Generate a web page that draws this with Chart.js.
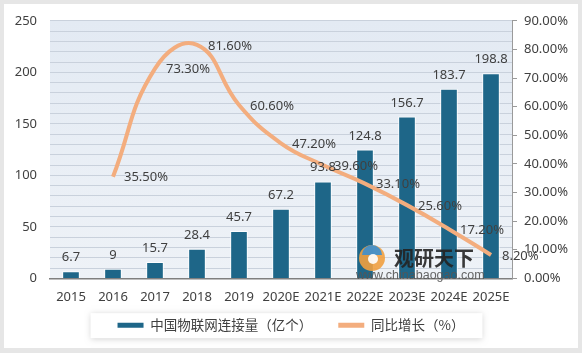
<!DOCTYPE html>
<html>
<head>
<meta charset="utf-8">
<script src="https://cdn.jsdelivr.net/npm/chart.js@4.4.1/dist/chart.umd.min.js"></script>
<style>
  html, body { margin: 0; padding: 0; background: #e6e6e6; }
  canvas { display: block; }
</style>
</head>
<body>
<canvas id="myChart" width="582" height="353"></canvas>
<script>
var years = ["2015", "2016", "2017", "2018", "2019", "2020E", "2021E", "2022E", "2023E", "2024E", "2025E"];
var connections = [6.7, 9, 15.7, 28.4, 45.7, 67.2, 93.8, 124.8, 156.7, 183.7, 198.8];
var growth = [null, 35.5, 73.3, 81.6, 60.6, 47.2, 39.6, 33.1, 25.6, 17.2, 8.2];
var leftTicks = [0, 50, 100, 150, 200, 250];

var barColor = '#1e6688';
var lineColor = '#f3ad7e';
var textColor = '#404040';
var numFont = "'Noto Sans', sans-serif";
var cjkFont = "'Noto Sans CJK SC', 'Noto Sans', sans-serif";
var legendPad = 26;
var legendFont = 13.5;

// pull the legend up closer to the axis labels
var legendShift = {
    id: 'legendShift',
    afterLayout: function (chart) {
        var lg = chart.legend;
        var d = lg.top - (chart.chartArea.bottom + 14);
        lg.top -= d;
        lg.bottom -= d;
    }
};

var backdrop = {
    id: 'backdrop',
    beforeDraw: function (chart) {
        var c = chart.ctx, a = chart.chartArea;
        c.save();
        c.fillStyle = '#e6e6e6';
        c.fillRect(0, 0, chart.width, chart.height);
        c.fillStyle = '#ffffff';
        c.fillRect(4, 4, chart.width - 8, chart.height - 9);
        var g = c.createLinearGradient(0, a.top, 0, a.bottom);
        g.addColorStop(0, '#e3eaf3');
        g.addColorStop(1, '#eef2f7');
        c.fillStyle = g;
        c.fillRect(a.left, a.top, a.right - a.left, a.bottom - a.top);
        // legend card
        var lg = chart.legend;
        if (lg && lg.lineWidths) {
            var lw = lg.lineWidths[0];
            var sx = (lg.left + legendPad + lg.right - lw) / 2;
            var x0 = sx - 27, x1 = sx + lw - legendPad + 18;
            var yc = lg.top + legendPad + legendFont / 2;
            c.shadowColor = 'rgba(0,0,0,0.18)';
            c.shadowBlur = 6;
            c.shadowOffsetY = 1;
            c.fillStyle = '#ffffff';
            c.fillRect(x0, yc - 12, x1 - x0, 25);
        }
        c.restore();
    }
};

var valueLabels = {
    id: 'valueLabels',
    afterDatasetsDraw: function (chart) {
        var c = chart.ctx;
        c.save();
        // watermark
        c.globalAlpha = 0.9;
        c.fillStyle = '#f0a040';
        c.beginPath(); c.arc(372, 258, 13, 0, Math.PI * 2); c.fill();
        c.fillStyle = '#3b8fd0';
        c.beginPath(); c.arc(372, 255, 10, Math.PI, Math.PI * 2); c.fill();
        c.fillStyle = '#ffffff';
        c.beginPath(); c.arc(373, 259, 5, 0, Math.PI * 2); c.fill();
        c.fillStyle = '#222222';
        c.font = "bold 20px 'Noto Sans CJK SC'";
        c.textAlign = 'left';
        c.textBaseline = 'middle';
        c.fillText('观研天下', 394, 258);
        c.fillStyle = '#555555';
        c.font = "12.5px 'Liberation Sans'";
        c.fillText('www.chinabaogao.com', 356, 276);
        c.globalAlpha = 1;

        c.fillStyle = textColor;
        c.font = '13px ' + numFont;
        var bars = chart.getDatasetMeta(0).data;
        c.textAlign = 'center';
        bars.forEach(function (b, i) {
            c.fillText(String(connections[i]), b.x, b.y - 14);
        });
        var pts = chart.getDatasetMeta(1).data;
        c.textAlign = 'left';
        pts.forEach(function (p, i) {
            if (growth[i] === null) return;
            c.fillText(growth[i].toFixed(2) + '%', p.x + 11, p.y + 1);
        });
        c.restore();
    }
};

var ctx = document.getElementById("myChart");
var myChart = new Chart(ctx, {
    data: {
        labels: years,
        datasets: [{
            type: 'bar',
            label: '中国物联网连接量（亿个）',
            data: connections,
            backgroundColor: barColor,
            borderColor: 'rgba(255,255,255,0.85)',
            borderWidth: 1,
            barThickness: 17,
            yAxisID: 'y',
            order: 1
        }, {
            type: 'line',
            label: '同比增长（%）',
            data: growth,
            borderColor: lineColor,
            backgroundColor: lineColor,
            borderWidth: 4,
            pointRadius: 0,
            tension: 0.45,
            fill: false,
            yAxisID: 'y1',
            order: 0
        }]
    },
    options: {
        responsive: false,
        animation: false,
        layout: { padding: { top: 19, left: 0, right: 0, bottom: 5 } },
        plugins: {
            tooltip: { enabled: false },
            legend: {
                position: 'bottom',
                maxHeight: 40,
                labels: {
                    boxWidth: 26,
                    boxHeight: 5,
                    padding: legendPad,
                    color: textColor,
                    font: { family: cjkFont, size: legendFont },
                    generateLabels: function (chart) {
                        return chart.data.datasets.map(function (ds, i) {
                            var col = i === 0 ? barColor : lineColor;
                            return { text: ds.label, fillStyle: col, strokeStyle: col, lineWidth: 0, datasetIndex: i, fontColor: textColor };
                        });
                    }
                }
            }
        },
        scales: {
            x: {
                grid: { display: false },
                border: { display: true, color: '#7f7f7f', width: 1.5 },
                ticks: { color: textColor, font: { family: numFont, size: 13 }, padding: 3, maxRotation: 0, autoSkip: false }
            },
            y: {
                position: 'left',
                min: 0,
                max: 250,
                grid: { color: '#c9d1dc', drawTicks: false },
                border: { display: false },
                ticks: {
                    stepSize: 10,
                    autoSkip: false,
                    padding: 13,
                    color: textColor,
                    font: { family: numFont, size: 13 },
                    callback: function (v) { return leftTicks.indexOf(v) >= 0 ? v : ''; }
                },
                afterFit: function (s) { s.width = 50; }
            },
            y1: {
                position: 'right',
                min: 0,
                max: 90,
                grid: { drawOnChartArea: false, color: '#9a9a9a', tickLength: 5 },
                border: { display: true, color: '#9a9a9a' },
                ticks: {
                    stepSize: 10,
                    autoSkip: false,
                    padding: 7,
                    color: textColor,
                    font: { family: numFont, size: 13 },
                    callback: function (v) { return v.toFixed(2) + '%'; }
                },
                afterFit: function (s) { s.width = 70; }
            }
        }
    },
    plugins: [legendShift, backdrop, valueLabels]
});
</script>
</body>
</html>
